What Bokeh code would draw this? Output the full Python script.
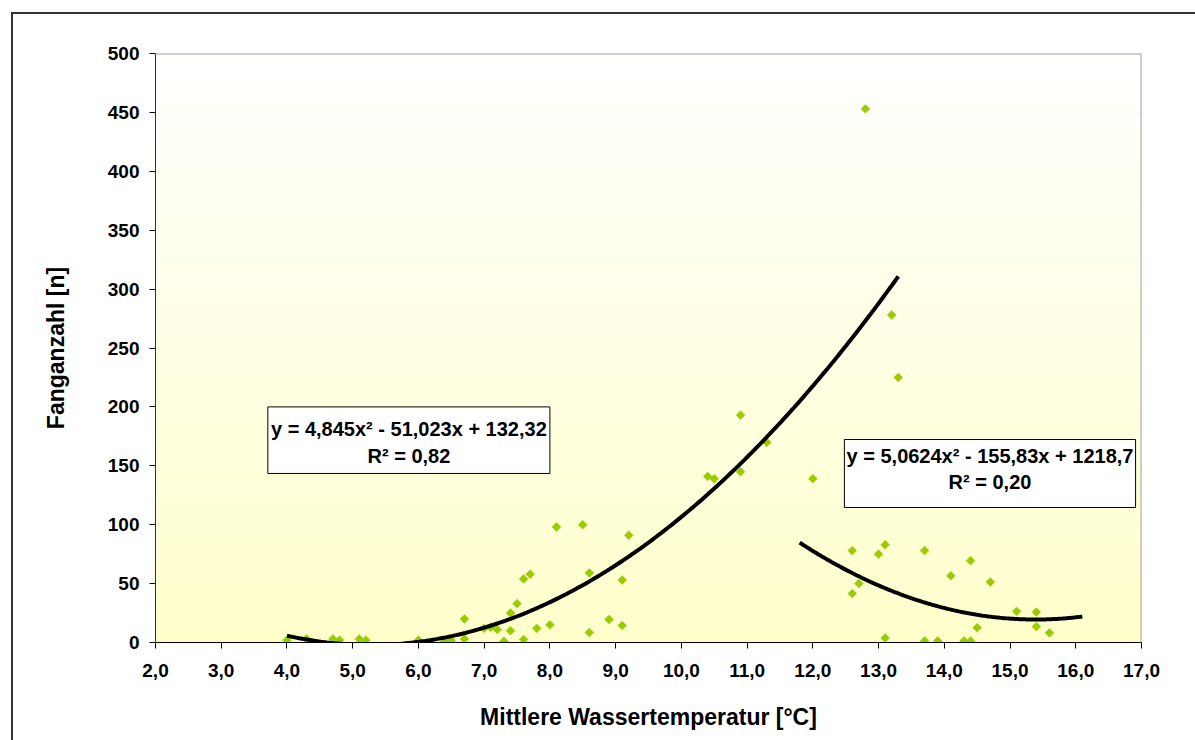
import numpy as np
from bokeh.plotting import figure
from bokeh.models import Range1d, FixedTicker, BoxAnnotation, Label, Span
from bokeh.embed import file_html
from bokeh.resources import INLINE

# ---- data ----
TEMP = [4.0, 4.3, 4.7, 4.8, 5.1, 5.2, 6.0, 6.4, 6.5, 6.7, 6.7, 7.0, 7.1, 7.2, 7.3,
        7.4, 7.4, 7.5, 7.6, 7.6, 7.7, 7.8, 8.0, 8.1, 8.5, 8.6, 8.6, 8.9, 9.1, 9.1,
        9.2, 10.4, 10.5, 10.9, 10.9, 11.3, 12.0, 12.6, 12.6, 12.7, 12.8, 13.0, 13.1,
        13.1, 13.2, 13.3, 13.7, 13.7, 13.9, 14.1, 14.3, 14.4, 14.4, 14.5, 14.7, 15.1,
        15.4, 15.4, 15.6]
CATCH = [2, 3, 3, 2, 3, 2, 2, 1, 2, 20, 3, 12, 13, 11, 1,
         10, 25, 33, 2.5, 54, 58, 12, 15, 98, 100, 59, 8.5, 19.5, 53, 14.4,
         91, 141, 139, 193, 145, 170, 139, 78, 41.5, 50, 453, 75, 83,
         3.8, 278, 225, 78, 1.3, 1.3, 56.6, 1.3, 1.3, 69.5, 12.6, 51.3, 26.4,
         25.8, 13.5, 8.2]

TREND1_COEF = [4.845, -51.023, 132.32]
TREND1_RANGE = [4.0, 13.3]
TREND2_COEF = [5.0624, -155.83, 1218.7]
TREND2_RANGE = [11.8, 16.1]

EQ1 = ["y = 4,845x² - 51,023x + 132,32", "R² = 0,82"]
EQ2 = ["y = 5,0624x² - 155,83x + 1218,7", "R² = 0,20"]

X_TICKS = [2, 3, 4, 5, 6, 7, 8, 9, 10, 11, 12, 13, 14, 15, 16, 17]
X_TICK_LABELS = ["2,0", "3,0", "4,0", "5,0", "6,0", "7,0", "8,0", "9,0", "10,0",
                 "11,0", "12,0", "13,0", "14,0", "15,0", "16,0", "17,0"]
Y_TICKS = [0, 50, 100, 150, 200, 250, 300, 350, 400, 450, 500]
Y_TICK_LABELS = ["0", "50", "100", "150", "200", "250", "300", "350", "400", "450", "500"]

X_TITLE = "Mittlere Wassertemperatur [°C]"
Y_TITLE = "Fanganzahl [n]"

FONT = "Liberation Sans"

p = figure(width=1195, height=740, output_backend="svg", toolbar_location=None,
           x_range=Range1d(X_TICKS[0], X_TICKS[-1]), y_range=Range1d(Y_TICKS[0], Y_TICKS[-1]),
           min_border_left=155, min_border_right=54, min_border_top=53, min_border_bottom=98)
p.background_fill_color = "white"
p.border_fill_color = None
p.outline_line_color = None
# outer chart frame (left and top edges) drawn as the host element's CSS background
p.styles = {
    "background": ("linear-gradient(#333333, #333333) 11px 12px / 2px 2000px no-repeat, "
                   "linear-gradient(#333333, #333333) 11px 12px / 2000px 2px no-repeat, "
                   "#ffffff"),
}

# gradient background (white at top -> light yellow at bottom)
n = 256
img = np.empty((n, 2), dtype=np.uint32)
view = img.view(dtype=np.uint8).reshape((n, 2, 4))
t = np.linspace(0, 1, n)
view[:, :, 0] = 255
view[:, :, 1] = 255
view[:, :, 2] = (204 + 51 * t)[:, None].astype(np.uint8)
view[:, :, 3] = 255
p.image_rgba(image=[img], x=X_TICKS[0], y=Y_TICKS[0],
             dw=X_TICKS[-1] - X_TICKS[0], dh=Y_TICKS[-1] - Y_TICKS[0])

# grid
p.xgrid.visible = False
p.ygrid.ticker = FixedTicker(ticks=Y_TICKS[1:-1])
p.ygrid.grid_line_color = "black"
p.ygrid.grid_line_width = 1

# top and right frame edges
p.add_layout(Span(location=Y_TICKS[-1], dimension="width", line_color="#a0a0a0", line_width=2))
p.add_layout(Span(location=X_TICKS[-1], dimension="height", line_color="#a0a0a0", line_width=2))

# axes
p.xaxis.ticker = FixedTicker(ticks=X_TICKS)
p.xaxis.major_label_overrides = {k: v for k, v in zip(X_TICKS, X_TICK_LABELS)}
p.yaxis.ticker = FixedTicker(ticks=Y_TICKS)
p.yaxis.major_label_overrides = {k: v for k, v in zip(Y_TICKS, Y_TICK_LABELS)}
for ax in (p.xaxis, p.yaxis):
    ax.minor_tick_line_color = None
    ax.major_tick_in = 0
    ax.major_tick_out = 6
    ax.major_tick_line_color = "black"
    ax.axis_line_color = "black"
    ax.major_label_text_font = FONT
    ax.major_label_text_font_style = "bold"
    ax.major_label_text_font_size = "19px"
    ax.major_label_text_color = "black"
    ax.axis_label_text_font = FONT
    ax.axis_label_text_font_style = "bold"
    ax.axis_label_text_font_size = "23px"
    ax.axis_label_text_color = "black"
p.yaxis.axis_line_color = "#333333"
p.xaxis.axis_label = X_TITLE
p.yaxis.axis_label = Y_TITLE
p.xaxis.major_label_standoff = 15
p.xaxis.axis_label_standoff = 24
p.yaxis.major_label_standoff = 10
p.yaxis.axis_label_standoff = 36

# scatter points
p.scatter(TEMP, CATCH, marker="square", angle=np.pi / 4, size=6.3,
          fill_color="#99CC00", line_color="#99CC00", line_width=0.5)

# trend lines
for coef, rng in ((TREND1_COEF, TREND1_RANGE), (TREND2_COEF, TREND2_RANGE)):
    xs = np.linspace(rng[0], rng[1], 200)
    ys = np.polyval(coef, xs)
    p.line(xs, ys, line_color="black", line_width=4)

# equation boxes
def eq_box(left, right, bottom, top, lines, cx, y1, y2):
    p.add_layout(BoxAnnotation(left=left, right=right, bottom=bottom, top=top,
                               fill_color="white", fill_alpha=1.0,
                               line_color="black", line_width=1, line_alpha=1.0))
    for txt, yy in zip(lines, (y1, y2)):
        p.add_layout(Label(x=cx, y=yy, text=txt, text_align="center",
                           text_baseline="middle", text_font=FONT,
                           text_font_style="bold", text_font_size="20px",
                           text_color="black"))

eq_box(3.709, 8.0, 143.5, 200.0, EQ1, 5.855, 181.2, 158.7)
eq_box(12.48, 16.91, 114.6, 172.3, EQ2, 14.695, 158.1, 136.3)

open("out.html", "w").write(file_html(p, INLINE))
